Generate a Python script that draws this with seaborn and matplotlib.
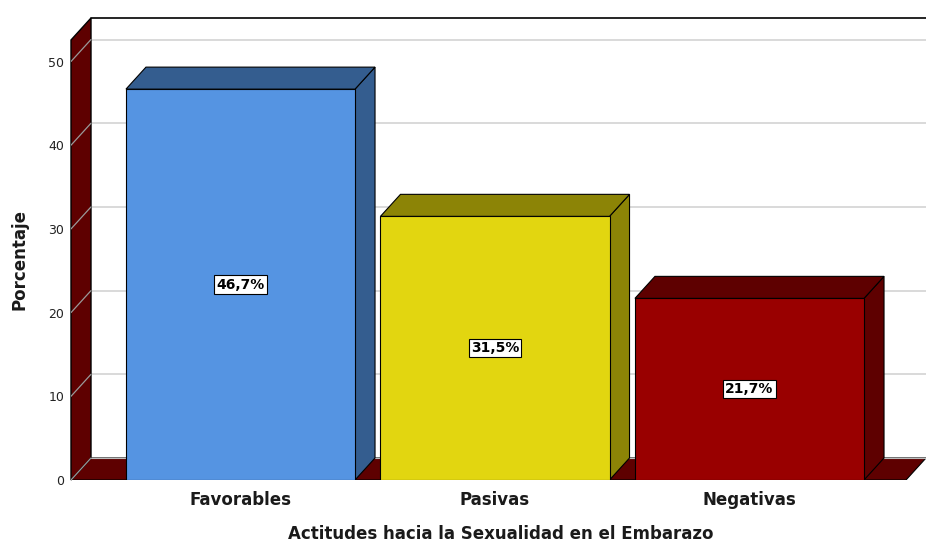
import matplotlib
matplotlib.use("Agg")
import matplotlib.pyplot as plt
from matplotlib.patches import Polygon
import seaborn as sns

categories = ["Favorables", "Pasivas", "Negativas"]
values = [46.7, 31.5, 21.7]
front_colors = ["#5594E2", "#E2D610", "#990000"]
side_colors = ["#345D8F", "#8C8406", "#5E0000"]
yticks = [0, 10, 20, 30, 40, 50]

sns.set_style("white")
plt.rcParams["font.family"] = ["DejaVu Sans"]

W, H = 926, 543
fig = plt.figure(figsize=(W / 100, H / 100), dpi=100)
# axes in pixels: left 71, right 926, bottom 480, top 18
ax = fig.add_axes([71 / W, (H - 480) / H, (926 - 71) / W, (480 - 18) / H])

px_per_unit_y = 8.37
spacing = 254.5
ymax = (480 - 18) / px_per_unit_y
x0 = (71 - 240.5) / spacing
x1 = (926 - 240.5) / spacing
dx = 20 / spacing
dy = 22 / px_per_unit_y
bw = 0.9
wall_col = "#5E0000"

# floor
floor_right = x1 - dx
ax.add_patch(Polygon([(x0, 0), (floor_right, 0), (x1, dy), (x0 + dx, dy)],
                     closed=True, facecolor=wall_col, edgecolor="black",
                     linewidth=0.8, zorder=1))
# left wall
ax.add_patch(Polygon([(x0, 0), (x0 + dx, dy), (x0 + dx, ymax), (x0, ymax - dy)],
                     closed=True, facecolor=wall_col, edgecolor="black",
                     linewidth=1.0, zorder=1, clip_on=False))
# back wall top line
ax.plot([x0 + dx, x1], [ymax, ymax], color="black", lw=1.2, zorder=2, clip_on=False)
# gridlines and tick diagonals
for v in yticks[1:]:
    ax.plot([x0 + dx, x1], [v + dy, v + dy], color="#D3D3D3", lw=1.2, zorder=0.5)
    ax.plot([x0, x0 + dx], [v, v + dy], color="#9A9A9A", lw=0.9, zorder=1.5)
ax.plot([x0, x0 + dx], [0, dy], color="#9A9A9A", lw=0.9, zorder=1.5)
ax.plot([x0 + dx, x1], [dy, dy], color="#BDBDBD", lw=0.8, zorder=1.2)

sns.barplot(x=categories, y=values, hue=categories, palette=front_colors,
            width=bw, edgecolor="black", linewidth=0.8, legend=False,
            saturation=1, ax=ax, zorder=3)

for i, (v, sc) in enumerate(zip(values, side_colors)):
    l, r = i - bw / 2, i + bw / 2
    ax.add_patch(Polygon([(r, 0), (r + dx, dy), (r + dx, v + dy), (r, v)],
                         closed=True, facecolor=sc, edgecolor="black",
                         linewidth=0.8, zorder=2.9))
    ax.add_patch(Polygon([(l, v), (r, v), (r + dx, v + dy), (l + dx, v + dy)],
                         closed=True, facecolor=sc, edgecolor="black",
                         linewidth=0.8, zorder=3.1))
    ax.text(i, v / 2, f"{v:.1f}%".replace(".", ","), ha="center", va="center",
            fontsize=10, fontweight="bold", color="black", zorder=5,
            bbox=dict(boxstyle="square,pad=0.15", facecolor="white",
                      edgecolor="black", linewidth=0.8))

ax.set_xlim(x0, x1)
ax.set_ylim(0, ymax)
for s in ax.spines.values():
    s.set_visible(False)
ax.set_yticks(yticks)
ax.set_yticklabels([str(t) for t in yticks], fontsize=9, color="#222222")
ax.tick_params(axis="y", length=0, pad=5)
ax.tick_params(axis="x", length=0, pad=8)
for lab in ax.get_xticklabels():
    lab.set_fontsize(12)
    lab.set_fontweight("bold")
    lab.set_color("#1a1a1a")

ax.set_xlabel("Actitudes hacia la Sexualidad en el Embarazo", fontsize=12,
              fontweight="bold", color="#1a1a1a")
ax.set_ylabel("Porcentaje", fontsize=12, fontweight="bold", color="#1a1a1a")
ax.xaxis.set_label_coords((501 - 71) / 855, (480 - 525) / 462)
ax.yaxis.set_label_coords((29 - 71) / 855, (480 - 260) / 462)

fig.savefig("out.png", dpi=100)
